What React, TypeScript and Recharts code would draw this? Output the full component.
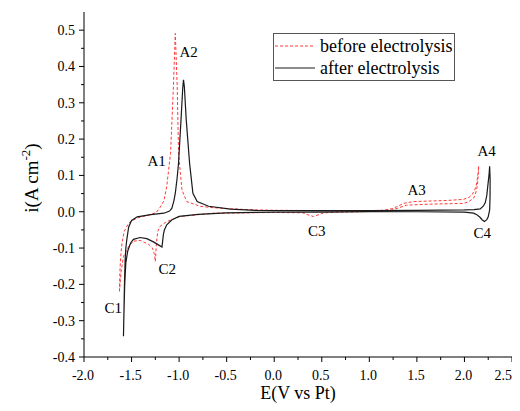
import { LineChart, Line, XAxis, YAxis, Legend, ReferenceDot } from "recharts";

// [E (V vs Pt), i (A cm-2)] in sweep order, each a closed loop
const beforeElectrolysis: [number, number][] = [
  [-1.627, -0.219], [-1.624, -0.18], [-1.62, -0.15], [-1.61, -0.11], [-1.6, -0.086],
  [-1.577, -0.054], [-1.53, -0.031], [-1.44, -0.017], [-1.3, -0.008], [-1.24, -0.002],
  [-1.2, 0.012], [-1.16, 0.03], [-1.13, 0.07], [-1.09, 0.161], [-1.06, 0.344],
  [-1.04, 0.491], [-1.02, 0.344], [-1.006, 0.161], [-0.97, 0.06], [-0.92, 0.028],
  [-0.78, 0.015], [-0.64, 0.011], [-0.3, 0.006], [0.0, 0.004], [0.5, 0.003],
  [1.0, 0.003], [1.15, 0.004], [1.25, 0.009], [1.36, 0.023], [1.465, 0.028],
  [1.816, 0.031], [1.99, 0.034], [2.05, 0.04], [2.08, 0.047], [2.105, 0.058],
  [2.124, 0.072], [2.138, 0.095], [2.145, 0.11], [2.15, 0.126], [2.146, 0.105],
  [2.14, 0.085], [2.128, 0.06], [2.11, 0.045], [2.096, 0.037], [2.04, 0.027],
  [1.99, 0.023], [1.64, 0.021], [1.39, 0.018], [1.3, 0.01], [1.22, 0.003],
  [1.1, 0.001], [0.7, -0.001], [0.52, -0.003], [0.47, -0.008], [0.41, -0.013],
  [0.35, -0.008], [0.3, -0.003], [0.0, -0.002], [-0.64, -0.004], [-0.99, -0.013],
  [-1.13, -0.027], [-1.2, -0.04], [-1.225, -0.055], [-1.238, -0.085], [-1.25, -0.137],
  [-1.262, -0.115], [-1.28, -0.1], [-1.32, -0.09], [-1.41, -0.079], [-1.48, -0.081],
  [-1.53, -0.095], [-1.585, -0.123], [-1.61, -0.165], [-1.627, -0.219],
];

const afterElectrolysis: [number, number][] = [
  [-1.585, -0.343], [-1.579, -0.26], [-1.573, -0.18], [-1.567, -0.13], [-1.56, -0.1],
  [-1.55, -0.077], [-1.53, -0.042], [-1.5, -0.024], [-1.44, -0.014], [-1.3, -0.008],
  [-1.16, -0.004], [-1.1, 0.002], [-1.076, 0.01], [-1.055, 0.03], [-1.04, 0.051],
  [-1.02, 0.095], [-1.006, 0.134], [-0.98, 0.253], [-0.962, 0.34], [-0.954, 0.363],
  [-0.945, 0.345], [-0.925, 0.253], [-0.89, 0.134], [-0.855, 0.051], [-0.81, 0.028],
  [-0.69, 0.015], [-0.46, 0.007], [-0.2, 0.004], [0.5, 0.003], [1.0, 0.003],
  [1.5, 0.004], [2.0, 0.005], [2.1, 0.006], [2.166, 0.008], [2.2, 0.016],
  [2.22, 0.026], [2.235, 0.045], [2.245, 0.07], [2.258, 0.1], [2.265, 0.125],
  [2.27, 0.09], [2.269, 0.04], [2.265, 0.005], [2.25, -0.014], [2.235, -0.022],
  [2.21, -0.027], [2.185, -0.022], [2.166, -0.016], [2.13, -0.008], [2.096, -0.004],
  [2.0, -0.001], [1.5, 0], [1.0, 0], [0.5, -0.001], [0.0, -0.001],
  [-0.5, -0.003], [-0.8, -0.007], [-1.0, -0.013], [-1.075, -0.022], [-1.13, -0.036],
  [-1.155, -0.05], [-1.165, -0.062], [-1.175, -0.085], [-1.18, -0.097], [-1.2, -0.094],
  [-1.27, -0.083], [-1.34, -0.074], [-1.41, -0.071], [-1.48, -0.076], [-1.51, -0.086],
  [-1.54, -0.108], [-1.56, -0.14], [-1.572, -0.2], [-1.58, -0.28], [-1.585, -0.343],
];

const xMajorTicks = [-2, -1.5, -1, -0.5, 0, 0.5, 1, 1.5, 2, 2.5];
const xMinorTicks = [-1.75, -1.25, -0.75, -0.25, 0.25, 0.75, 1.25, 1.75, 2.25];
const yMajorTicks = [-0.4, -0.3, -0.2, -0.1, 0, 0.1, 0.2, 0.3, 0.4, 0.5];
const yMinorTicks = [-0.35, -0.25, -0.15, -0.05, 0.05, 0.15, 0.25, 0.35, 0.45];

const peakNames = ["A1", "A2", "A3", "A4", "C1", "C2", "C3", "C4"];
const peakE = [-1.236, -0.899, 1.498, 2.234, -1.693, -1.125, 0.447, 2.187];
const peakI = [0.14, 0.442, 0.06, 0.169, -0.264, -0.157, -0.052, -0.058];

const FONT = "'Liberation Serif', 'Times New Roman', serif";
const RED = "#ff3b3b";
const BLACK = "#1a1a1a";

const toPoints = (rows: [number, number][]) => rows.map(([x, y]) => ({ x, y }));
const beforeData = toPoints(beforeElectrolysis);
const afterData = toPoints(afterElectrolysis);

function XTick({ x, y, payload }: any) {
  const major = xMajorTicks.includes(payload.value);
  // last label sits at the right edge, keep it fully visible
  const last = payload.value === xMajorTicks[xMajorTicks.length - 1];
  return (
    <g>
      <line x1={x} y1={y} x2={x} y2={y + (major ? 5 : 3)} stroke="#000" />
      {major && (
        <text
          x={last ? x : x - 1}
          y={y + 23}
          textAnchor={last ? "end" : "middle"}
          fontSize={14}
          style={{ fontFamily: FONT }}
          fill="#000"
        >
          {payload.value.toFixed(1)}
        </text>
      )}
    </g>
  );
}

function YTick({ x, y, payload }: any) {
  const major = yMajorTicks.includes(payload.value);
  return (
    <g>
      <line x1={x} y1={y} x2={x - (major ? 5 : 3)} y2={y} stroke="#000" />
      {major && (
        <text x={x - 9} y={y + 5} textAnchor="end" fontSize={14} style={{ fontFamily: FONT }} fill="#000">
          {payload.value.toFixed(1)}
        </text>
      )}
    </g>
  );
}

function LegendBox() {
  const row = (color: string, dash: string | undefined, text: string) => (
    <div style={{ display: "flex", alignItems: "center", height: 22, whiteSpace: "nowrap" }}>
      <svg width={40} height={10} style={{ marginRight: 5, flexShrink: 0 }}>
        <line x1={0} y1={5} x2={40} y2={5} stroke={color} strokeWidth={1} strokeDasharray={dash} />
      </svg>
      <span>{text}</span>
    </div>
  );
  return (
    <div
      style={{
        boxSizing: "border-box",
        border: "1px solid #555",
        width: 182,
        height: 48,
        padding: "1px 0 0 1px",
        fontFamily: FONT,
        fontSize: 18,
        lineHeight: "22px",
        color: "#000",
        background: "#fff",
      }}
    >
      {row(RED, "3 2", "before electrolysis")}
      {row(BLACK, undefined, "after electrolysis")}
    </div>
  );
}

export default function App() {
  return (
    // cancel the body margin so the chart can use the full window width
    <div style={{ margin: "-8px 0 0 -8px", width: 520, height: 403 }}>
      <LineChart width={520} height={403} margin={{ top: 12, right: 8, bottom: 0, left: 8 }}>
        <XAxis
          dataKey="x"
          type="number"
          domain={[-2, 2.5]}
          allowDataOverflow
          ticks={[...xMajorTicks, ...xMinorTicks].sort((a, b) => a - b)}
          interval={0}
          tickSize={0}
          tickMargin={0}
          tickLine={false}
          tick={<XTick />}
          height={46}
          stroke="#000"
          label={({ viewBox }: any) => (
            <text
              x={viewBox.x + viewBox.width / 2}
              y={viewBox.y + 42}
              textAnchor="middle"
              fontSize={18}
              fontFamily={FONT}
              fill="#000"
            >
              E(V vs Pt)
            </text>
          )}
        />
        <YAxis
          dataKey="y"
          type="number"
          domain={[-0.4, 0.55]}
          allowDataOverflow
          ticks={[...yMajorTicks, ...yMinorTicks].sort((a, b) => a - b)}
          interval={0}
          tickSize={0}
          tickMargin={0}
          tickLine={false}
          tick={<YTick />}
          width={76}
          stroke="#000"
          label={({ viewBox }: any) => (
            <text
              transform={`translate(${viewBox.x + 30}, ${viewBox.y + 166}) rotate(-90)`}
              textAnchor="middle"
              fontSize={19}
              fontFamily={FONT}
              fill="#000"
            >
              i(A cm
              <tspan dy={-8} fontSize={13}>-2</tspan>
              <tspan dy={8}>)</tspan>
            </text>
          )}
        />
        <Legend
          layout="vertical"
          verticalAlign="middle"
          align="center"
          wrapperStyle={{ left: 273, top: 33, width: 182 }}
          content={<LegendBox />}
        />
        <Line
          data={beforeData}
          dataKey="y"
          name="before electrolysis"
          type="linear"
          stroke={RED}
          strokeWidth={1}
          strokeDasharray="3 2"
          dot={false}
          activeDot={false}
          isAnimationActive={false}
        />
        <Line
          data={afterData}
          dataKey="y"
          name="after electrolysis"
          type="linear"
          stroke={BLACK}
          strokeWidth={1.2}
          dot={false}
          activeDot={false}
          isAnimationActive={false}
        />
        {peakNames.map((name, i) => (
          <ReferenceDot
            key={name}
            x={peakE[i]}
            y={peakI[i]}
            r={0}
            fill="none"
            stroke="none"
            label={{ value: name, position: "center", fontSize: 15, fontFamily: FONT, fill: "#000" }}
          />
        ))}
      </LineChart>
    </div>
  );
}
